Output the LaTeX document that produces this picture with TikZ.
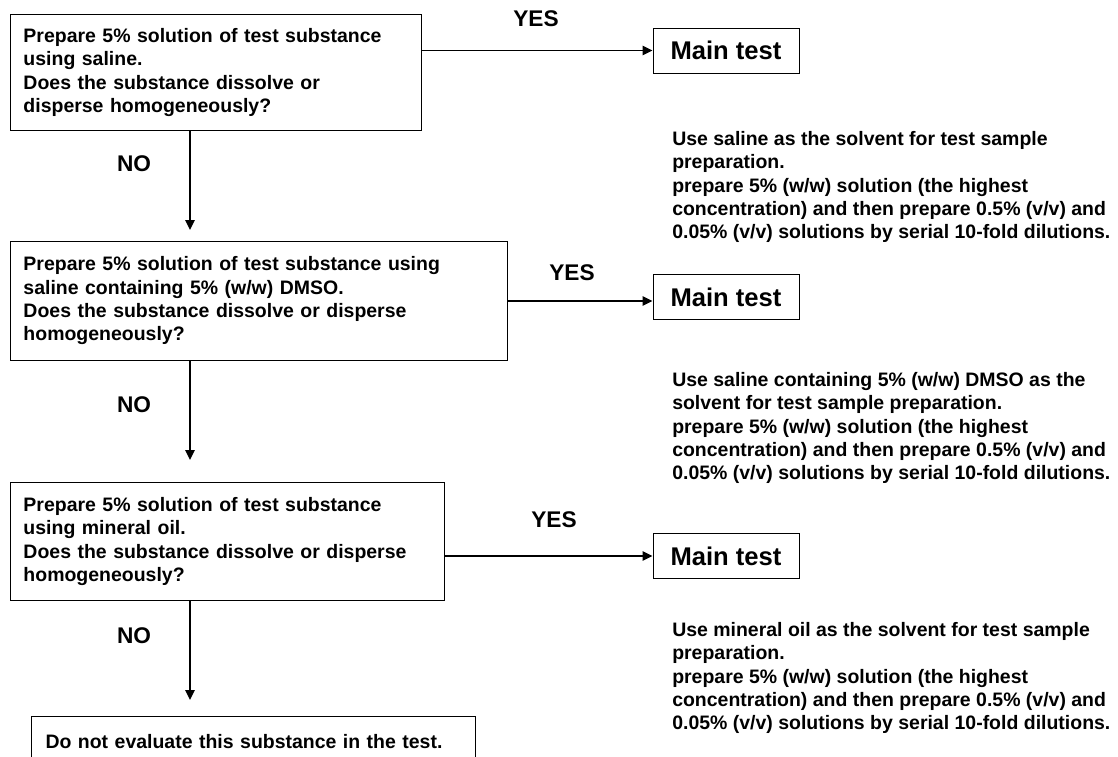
\documentclass[tikz,border=0pt]{standalone}
\usepackage{fontspec}
\setmainfont{Liberation Sans}
\usetikzlibrary{arrows.meta}
\newdimen\pu \pu=0.75pt
\newcommand\bodyfont{\fontsize{14.6}{17.5}\selectfont\bfseries}
\newcommand\labfont{\fontsize{17}{20}\selectfont\bfseries}
\newcommand\mainfont{\fontsize{19.2}{22}\selectfont\bfseries}
\begin{document}
\begin{tikzpicture}[x=0.75pt,y=-0.75pt,
  qbox/.style={draw, line width=0.75pt, anchor=north west, align=left,
    inner xsep=13\pu, inner ysep=0pt, font=\bodyfont},
  mbox/.style={draw, line width=0.75pt, minimum width=146\pu,
    minimum height=45\pu, inner sep=0pt, font=\mainfont},
  desc/.style={anchor=north west, align=left, inner sep=0pt, font=\bodyfont},
  lbl/.style={inner sep=0pt, font=\labfont},
  arr/.style={line width=1.4pt, -{Triangle[length=7.5pt,width=7pt]}}]
\useasboundingbox (0,0) rectangle (1118,757);
\clip (0,0) rectangle (1118,757);
\fill[white] (0,0) rectangle (1118,757);

% question boxes
\node[qbox, minimum width=411\pu, minimum height=116\pu, text width=385\pu] (b1) at (10,14)
  {Prepare 5\% solution of test substance\\ using saline.\\ Does the substance dissolve or\\ disperse homogeneously?};
\node[qbox, minimum width=497\pu, minimum height=119\pu, text width=471\pu] (b2) at (10,241)
  {Prepare 5\% solution of test substance using\\ saline containing 5\% (w/w) DMSO.\\ Does the substance dissolve or disperse\\ homogeneously?};
\node[qbox, minimum width=434\pu, minimum height=118\pu, text width=408\pu] (b3) at (10,482)
  {Prepare 5\% solution of test substance\\ using mineral oil.\\ Does the substance dissolve or disperse\\ homogeneously?};
\node[qbox, inner xsep=14\pu, minimum width=444\pu, minimum height=50\pu, text width=416\pu] (b4) at (31,716)
  {Do not evaluate this substance in the test.};

% main test boxes
\node[mbox] (m1) at (726,50.5) {Main test};
\node[mbox] (m2) at (726,297) {Main test};
\node[mbox] (m3) at (726,556) {Main test};

% descriptions
\node[desc] (d1) at (672,131)
  {Use saline as the solvent for test sample\\ preparation.\\ prepare 5\% (w/w) solution (the highest\\ concentration) and then prepare 0.5\% (v/v) and\\ 0.05\% (v/v) solutions by serial 10-fold dilutions.};
\node[desc] (d2) at (672,372)
  {Use saline containing 5\% (w/w) DMSO as the\\ solvent for test sample preparation.\\ prepare 5\% (w/w) solution (the highest\\ concentration) and then prepare 0.5\% (v/v) and\\ 0.05\% (v/v) solutions by serial 10-fold dilutions.};
\node[desc] (d3) at (672,622)
  {Use mineral oil as the solvent for test sample\\ preparation.\\ prepare 5\% (w/w) solution (the highest\\ concentration) and then prepare 0.5\% (v/v) and\\ 0.05\% (v/v) solutions by serial 10-fold dilutions.};

% labels
\node[lbl] (y1) at (536,19) {YES};
\node[lbl] (y2) at (572,273) {YES};
\node[lbl] (y3) at (554,520) {YES};
\node[lbl] (n1) at (134,164) {NO};
\node[lbl] (n2) at (134,405) {NO};
\node[lbl] (n3) at (134,636) {NO};

% connectors
\coordinate (t1) at (190,230);
\coordinate (t2) at (190,460);
\coordinate (t3) at (190,700);
\draw[arr] (b1.south -| t1) -- (t1);
\draw[arr] (b2.south -| t2) -- (t2);
\draw[arr] (b3.south -| t3) -- (t3);
\draw[arr] (b1.east |- m1.west) -- (m1.west);
\draw[arr] (b2.east) -- (m2.west |- b2.east);
\draw[arr] (b3.east |- m3.west) -- (m3.west);
\end{tikzpicture}
\end{document}
